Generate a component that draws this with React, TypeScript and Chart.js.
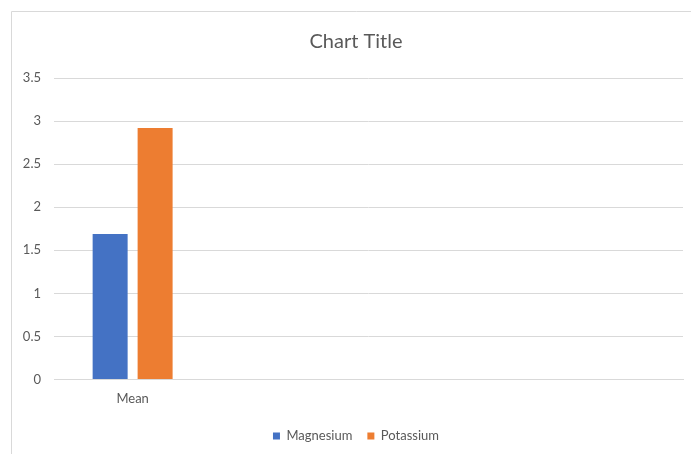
import React, { useEffect, useRef } from 'react';
import { Chart, registerables } from 'chart.js';

Chart.register(...registerables);

const categories = ['Mean', '', '', ''];
const magnesium: (number | null)[] = [1.69, null, null, null];
const potassium: (number | null)[] = [2.92, null, null, null];
const seriesNames = ['Magnesium', 'Potassium'];
const yMin = 0;
const yMax = 3.5;
const yStep = 0.5;

const FONT = 'Lato, "Open Sans", sans-serif';
const TEXT = '#595959';
const GRID = '#d9d9d9';

const borderPlugin = {
  id: 'frameBorder',
  beforeDraw(chart: any) {
    const ctx = chart.ctx;
    ctx.save();
    ctx.strokeStyle = GRID;
    ctx.lineWidth = 1;
    ctx.beginPath();
    ctx.moveTo(0.5, chart.height);
    ctx.lineTo(0.5, 0.5);
    ctx.lineTo(chart.width, 0.5);
    ctx.stroke();
    ctx.restore();
  },
};

export default function App() {
  const ref = useRef<HTMLCanvasElement | null>(null);
  useEffect(() => {
    if (!ref.current) return;
    const chart = new Chart(ref.current, {
      type: 'bar',
      data: {
        labels: categories,
        datasets: [
          {
            label: seriesNames[0],
            data: magnesium,
            backgroundColor: '#4472C4',
            categoryPercentage: 0.572,
            barPercentage: 0.778,
          },
          {
            label: seriesNames[1],
            data: potassium,
            backgroundColor: '#ED7D31',
            categoryPercentage: 0.572,
            barPercentage: 0.778,
          },
        ],
      },
      options: {
        animation: false,
        responsive: false,
        events: [],
        layout: { padding: { left: 0, right: 0, top: 0, bottom: 1.5 } },
        plugins: {
          title: {
            display: true,
            text: 'Chart Title',
            color: TEXT,
            font: { family: FONT, size: 20, weight: 'normal' },
            padding: { top: 19, bottom: 24 },
          },
          legend: {
            display: true,
            position: 'bottom',
            labels: {
              color: TEXT,
              font: { family: FONT, size: 13 },
              boxWidth: 7,
              boxHeight: 7,
              padding: 15,
            },
          },
          tooltip: { enabled: false },
        },
        scales: {
          x: {
            grid: { display: false, drawTicks: false },
            border: { display: true, color: GRID },
            ticks: { color: TEXT, font: { family: FONT, size: 13 }, padding: 12 },
            afterFit(scale: any) {
              scale.height = 35;
            },
          },
          y: {
            min: yMin,
            max: yMax,
            ticks: {
              stepSize: yStep,
              color: TEXT,
              font: { family: FONT, size: 13 },
              padding: 13,
              callback: (v: any) => String(Number(v)),
            },
            grid: { color: GRID, drawTicks: false },
            border: { display: false },
            afterFit(scale: any) {
              scale.width = 43;
            },
          },
          yRightSpace: {
            type: 'linear',
            position: 'right',
            display: true,
            grid: { display: false, drawTicks: false },
            border: { display: false },
            ticks: { display: false },
            afterFit(scale: any) {
              scale.width = 18;
            },
          },
        },
      },
      plugins: [borderPlugin],
    });
    return () => chart.destroy();
  }, []);

  return (
    <div
      style={{
        position: 'fixed',
        left: 0,
        top: 0,
        width: 691,
        height: 454,
        overflow: 'hidden',
        background: '#fff',
      }}
    >
      <canvas
        ref={ref}
        width={690}
        height={443}
        style={{ position: 'absolute', left: 11, top: 11, width: 690, height: 443 }}
      />
    </div>
  );
}
